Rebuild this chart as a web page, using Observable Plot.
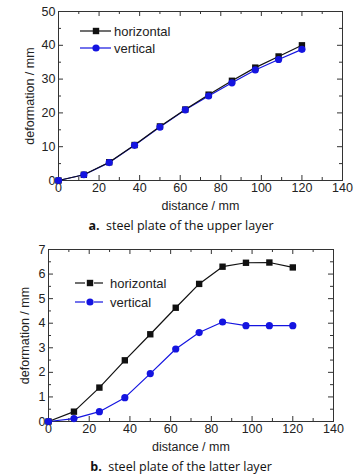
<!DOCTYPE html>
<html>
<head>
<meta charset="utf-8">
<script src="https://cdn.jsdelivr.net/npm/d3@7"></script>
<script src="https://cdn.jsdelivr.net/npm/@observablehq/plot@0.6"></script>
<style>
  body { margin: 0; background: #fff; }
  #root { width: 362px; height: 475px; position: relative; overflow: hidden; }
  .chart { position: absolute; left: 0; width: 362px; }
  .chart svg text { font-weight: normal !important; }
  .caption { position: absolute; left: 0; width: 362px; text-align: center; font-family: "Open Sans", "DejaVu Sans", sans-serif; font-size: 12.5px; color: #111; line-height: 16px; }
  .caption b { font-weight: 700; }
  .legend { position: absolute; left: 0; top: 0; }
</style>
</head>
<body>
<div id="root"></div>
<script>
const distance = [0, 12.5, 25, 37.5, 50, 62.5, 74, 85.5, 97, 108.5, 120];
const upperHorizontal = [0, 1.7, 5.4, 10.5, 16.0, 21.0, 25.4, 29.5, 33.4, 36.7, 40.0];
const upperVertical   = [0, 1.7, 5.3, 10.4, 15.8, 20.9, 25.0, 28.9, 32.7, 35.8, 38.8];
const latterHorizontal = [0, 0.4, 1.38, 2.49, 3.55, 4.63, 5.6, 6.3, 6.46, 6.47, 6.27];
const latterVertical   = [0, 0.12, 0.4, 0.97, 1.95, 2.95, 3.62, 4.05, 3.9, 3.9, 3.9];
const seriesNames = ["horizontal", "vertical"];
const xLabel = "distance / mm";
const yLabel = "deformation / mm";
const captions = [["a.", "steel plate of the upper layer"], ["b.", "steel plate of the latter layer"]];

const BLACK = "#111";
const BLUE = "#1414e0";
const AXIS_FONT = "'Liberation Sans', Arial, sans-serif";

function makeChart(cfg) {
  const {h, v, yMax, yMajor, yMinor, ml, mr, mt, mb, height, yLabelOffset, legend} = cfg;
  const width = 362;
  const plotH = height - mt - mb;
  const plotW = width - ml - mr;
  const rows = [];
  distance.forEach((d, i) => {
    rows.push({x: d, y: h[i], s: seriesNames[0]});
    rows.push({x: d, y: v[i], s: seriesNames[1]});
  });
  const hRows = rows.filter(r => r.s === seriesNames[0]);
  const vRows = rows.filter(r => r.s === seriesNames[1]);
  const xMajorT = d3.range(0, 141, 20);
  const xMinorT = d3.range(10, 141, 20);
  const yMajorT = d3.range(0, yMax + 1e-9, yMajor);
  const yMinorT = d3.range(yMinor, yMax, yMajor);
  const ML = 5, mn = 3;
  const svg = Plot.plot({
    width, height,
    marginLeft: ml, marginRight: mr, marginTop: mt, marginBottom: mb,
    style: {fontFamily: AXIS_FONT, fontSize: "12.5px", fontWeight: "normal", color: "#222", background: "white"},
    x: {domain: [0, 140]},
    y: {domain: [0, yMax]},
    marks: [
      Plot.tickX(xMajorT, {x: d => d, insetTop: plotH - ML, stroke: "#333"}),
      Plot.tickX(xMinorT, {x: d => d, insetTop: plotH - mn, stroke: "#333"}),
      Plot.tickX(xMajorT, {x: d => d, insetBottom: plotH - ML, stroke: "#333"}),
      Plot.tickX(xMinorT, {x: d => d, insetBottom: plotH - mn, stroke: "#333"}),
      Plot.tickY(yMajorT, {y: d => d, insetRight: plotW - ML, stroke: "#333"}),
      Plot.tickY(yMinorT, {y: d => d, insetRight: plotW - mn, stroke: "#333"}),
      Plot.tickY(yMajorT, {y: d => d, insetLeft: plotW - ML, stroke: "#333"}),
      Plot.tickY(yMinorT, {y: d => d, insetLeft: plotW - mn, stroke: "#333"}),
      Plot.axisX(xMajorT, {tickSize: 0, tickPadding: 3, label: xLabel, labelAnchor: "center", labelOffset: 29, labelArrow: "none"}),
      Plot.axisY(yMajorT, {tickSize: 0, tickPadding: 3, label: yLabel, labelAnchor: "center", labelOffset: yLabelOffset, labelArrow: "none"}),
      Plot.frame({stroke: "#333", strokeWidth: 1}),
      Plot.line(vRows, {x: "x", y: "y", stroke: BLUE, strokeWidth: 1.2}),
      Plot.line(hRows, {x: "x", y: "y", stroke: BLACK, strokeWidth: 1.2}),
      Plot.dot(hRows, {x: "x", y: "y", symbol: "square", r: 3.6, fill: BLACK, stroke: "none"}),
      Plot.dot(vRows, {x: "x", y: "y", symbol: "circle", r: 3.6, fill: BLUE, stroke: "none"})
    ]
  });
  const wrap = document.createElement("div");
  wrap.className = "chart";
  wrap.style.top = cfg.top + "px";
  wrap.style.height = height + "px";
  wrap.appendChild(svg);
  const NS = "http://www.w3.org/2000/svg";
  const lg = document.createElementNS(NS, "svg");
  lg.setAttribute("class", "legend");
  lg.setAttribute("width", 220);
  lg.setAttribute("height", 90);
  const items = [
    {name: seriesNames[0], color: BLACK, sym: "square", y: legend.y0},
    {name: seriesNames[1], color: BLUE, sym: "circle", y: legend.y1}
  ];
  for (const it of items) {
    for (const seg of legend.segs) {
      const ln = document.createElementNS(NS, "line");
      ln.setAttribute("x1", seg[0]); ln.setAttribute("x2", seg[1]);
      ln.setAttribute("y1", it.y); ln.setAttribute("y2", it.y);
      ln.setAttribute("stroke", it.color); ln.setAttribute("stroke-width", 1.2);
      lg.appendChild(ln);
    }
    let m;
    if (it.sym === "square") {
      m = document.createElementNS(NS, "rect");
      m.setAttribute("x", legend.mx - 3.2); m.setAttribute("y", it.y - 3.2);
      m.setAttribute("width", 6.4); m.setAttribute("height", 6.4);
    } else {
      m = document.createElementNS(NS, "circle");
      m.setAttribute("cx", legend.mx); m.setAttribute("cy", it.y); m.setAttribute("r", 3.6);
    }
    m.setAttribute("fill", it.color);
    lg.appendChild(m);
    const t = document.createElementNS(NS, "text");
    t.setAttribute("x", legend.tx); t.setAttribute("y", it.y);
    t.setAttribute("dy", "0.35em");
    t.setAttribute("font-family", AXIS_FONT);
    t.setAttribute("font-size", "13px");
    t.setAttribute("fill", "#222");
    t.textContent = it.name;
    lg.appendChild(t);
  }
  wrap.appendChild(lg);
  return wrap;
}

const root = document.getElementById("root");
root.appendChild(makeChart({
  top: 0,
  h: upperHorizontal, v: upperVertical, yMax: 50, yMajor: 10, yMinor: 5,
  ml: 58, mr: 20, mt: 11, mb: 32, height: 212, yLabelOffset: 33,
  legend: {y0: 31, y1: 48, segs: [[80, 111]], mx: 96, tx: 114}
}));
const c1 = document.createElement("div");
c1.className = "caption";
c1.style.top = "218px";
c1.innerHTML = "<b>" + captions[0][0] + "</b>&nbsp; " + captions[0][1];
root.appendChild(c1);
root.appendChild(makeChart({
  top: 240,
  h: latterHorizontal, v: latterVertical, yMax: 7, yMajor: 1, yMinor: 0.5,
  ml: 48, mr: 29, mt: 9, mb: 32, height: 213, yLabelOffset: 28,
  legend: {y0: 43, y1: 62, segs: [[75, 85], [94, 103]], mx: 90, tx: 110}
}));
const c2 = document.createElement("div");
c2.className = "caption";
c2.style.top = "459px";
c2.innerHTML = "<b>" + captions[1][0] + "</b>&nbsp; " + captions[1][1];
root.appendChild(c2);
</script>
</body>
</html>
